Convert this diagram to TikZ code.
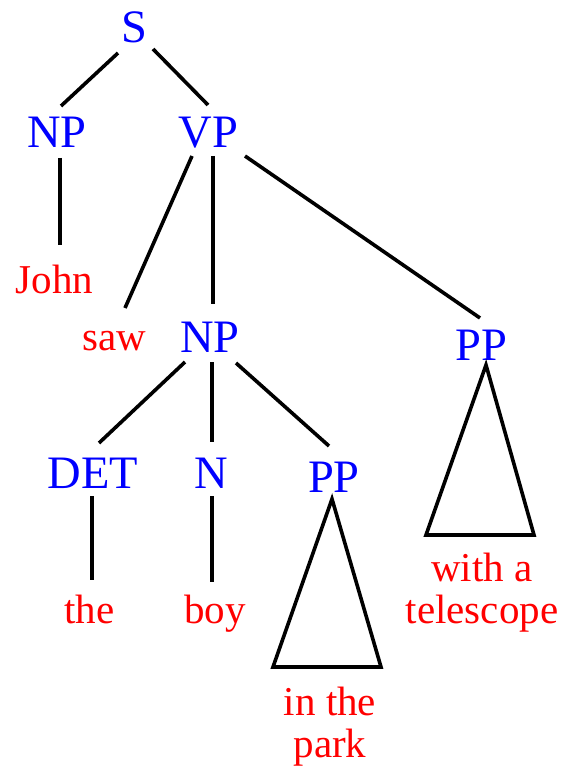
\documentclass[tikz,border=0pt]{standalone}
\usepackage{fontspec}
\setmainfont{Liberation Serif}
\begin{document}
\begin{tikzpicture}[x=1pt,y=-1pt,
  cat/.style={text=blue,font=\fontsize{46.5}{50}\selectfont,inner sep=0pt,anchor=base},
  word/.style={text=red,font=\fontsize{41}{41.5}\selectfont,inner sep=0pt,anchor=base,align=center},
  edge/.style={draw=black,line width=3.6pt},
  tri/.style={draw=black,line width=3.6pt,line join=miter}]
\useasboundingbox (0,0) rectangle (566,770);

% phrase labels
\node[cat] (s)   at (134.5,43)  {S};
\node[cat] (np1) at (57,148)    {NP};
\node[cat] (vp)  at (208.5,148) {VP};
\node[cat] (np2) at (210,352)   {NP};
\node[cat] (ppr) at (481.5,360) {PP};
\node[cat] (det) at (93,488)    {DET};
\node[cat] (n)   at (211.5,488) {N};
\node[cat] (pp2) at (334,492)   {PP};

% words (multi-line nodes sit on the baseline of their last line)
\node[word] (john) at (54.5,293) {John};
\node[word] (saw)  at (114.5,350) {saw};
\node[word] (the)  at (89.5,623) {the};
\node[word] (boy)  at (215,623)  {boy};
\node[word] (tel)  at (482,623)  {with a\\telescope};
\node[word] (park) at (330,757)  {in the\\park};

% branches
\draw[edge] ([shift={(-16.5,10)}]s.base) -- ([shift={(4,-42)}]np1.base);
\draw[edge] ([shift={(18.5,6)}]s.base) -- ([shift={(-0.5,-43)}]vp.base);
\draw[edge] ([shift={(3,10)}]np1.base) -- ([shift={(5.5,-48)}]john.base);
\draw[edge] ([shift={(-16.5,8)}]vp.base) -- ([shift={(10.5,-42)}]saw.base);
\draw[edge] ([shift={(4.5,8)}]vp.base) -- ([shift={(3,-48)}]np2.base);
\draw[edge] ([shift={(36.5,8)}]vp.base) -- ([shift={(-1.5,-42)}]ppr.base);
\draw[edge] ([shift={(-25,10)}]np2.base) -- ([shift={(6,-45)}]det.base);
\draw[edge] ([shift={(2,10)}]np2.base) -- ([shift={(0.5,-46)}]n.base);
\draw[edge] ([shift={(26,11)}]np2.base) -- ([shift={(-5,-46)}]pp2.base);
\draw[edge] ([shift={(-1,8)}]det.base) -- ([shift={(2.5,-43)}]the.base);
\draw[edge] ([shift={(0.5,8)}]n.base) -- ([shift={(-3,-41)}]boy.base);

% collapsed constituents
\coordinate (pp2l) at (273,667);
\coordinate (pp2r) at (381,667);
\coordinate (pprl) at (426,535);
\coordinate (pprr) at (534,535);
\draw[tri] ([shift={(-2,7)}]pp2.base) -- (pp2l) -- (pp2r) -- cycle;
\draw[tri] ([shift={(4.5,5)}]ppr.base) -- (pprl) -- (pprr) -- cycle;
\end{tikzpicture}
\end{document}
